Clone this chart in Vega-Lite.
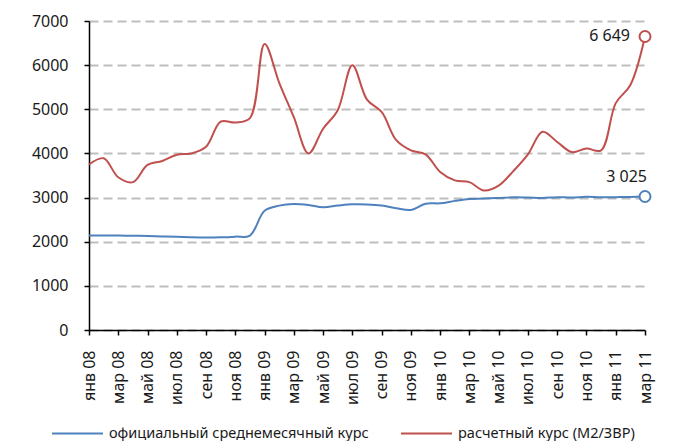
{
  "$schema": "https://vega.github.io/schema/vega-lite/v6.json",
  "width": 556,
  "height": 309,
  "autosize": {"type": "none"},
  "padding": {"left": 89, "top": 21, "right": 30, "bottom": 111},
  "background": "white",
  "config": {
    "view": {"stroke": null},
    "font": "Noto Sans",
    "locale": {"number": {"decimal": ",", "thousands": " ", "grouping": [3], "currency": ["", ""]}},
    "axis": {"labelFont": "Noto Sans", "labelFontSize": 16, "labelColor": "#1a1a1a", "domainColor": "black", "domainWidth": 1.5, "tickColor": "black", "tickWidth": 1.5, "tickSize": 5}
  },
  "data": {
    "values": [
      {"month": "янв 08", "series": "официальный среднемесячный курс", "value": 2140},
      {"month": "фев 08", "series": "официальный среднемесячный курс", "value": 2140},
      {"month": "мар 08", "series": "официальный среднемесячный курс", "value": 2138},
      {"month": "апр 08", "series": "официальный среднемесячный курс", "value": 2135},
      {"month": "май 08", "series": "официальный среднемесячный курс", "value": 2130},
      {"month": "июн 08", "series": "официальный среднемесячный курс", "value": 2120},
      {"month": "июл 08", "series": "официальный среднемесячный курс", "value": 2110},
      {"month": "авг 08", "series": "официальный среднемесячный курс", "value": 2100},
      {"month": "сен 08", "series": "официальный среднемесячный курс", "value": 2095},
      {"month": "окт 08", "series": "официальный среднемесячный курс", "value": 2100},
      {"month": "ноя 08", "series": "официальный среднемесячный курс", "value": 2115},
      {"month": "дек 08", "series": "официальный среднемесячный курс", "value": 2140},
      {"month": "янв 09", "series": "официальный среднемесячный курс", "value": 2700},
      {"month": "фев 09", "series": "официальный среднемесячный курс", "value": 2818},
      {"month": "мар 09", "series": "официальный среднемесячный курс", "value": 2856},
      {"month": "апр 09", "series": "официальный среднемесячный курс", "value": 2833},
      {"month": "май 09", "series": "официальный среднемесячный курс", "value": 2780},
      {"month": "июн 09", "series": "официальный среднемесячный курс", "value": 2818},
      {"month": "июл 09", "series": "официальный среднемесячный курс", "value": 2848},
      {"month": "авг 09", "series": "официальный среднемесячный курс", "value": 2845},
      {"month": "сен 09", "series": "официальный среднемесячный курс", "value": 2820},
      {"month": "окт 09", "series": "официальный среднемесячный курс", "value": 2760},
      {"month": "ноя 09", "series": "официальный среднемесячный курс", "value": 2720},
      {"month": "дек 09", "series": "официальный среднемесячный курс", "value": 2860},
      {"month": "янв 10", "series": "официальный среднемесячный курс", "value": 2870},
      {"month": "фев 10", "series": "официальный среднемесячный курс", "value": 2925},
      {"month": "мар 10", "series": "официальный среднемесячный курс", "value": 2970},
      {"month": "апр 10", "series": "официальный среднемесячный курс", "value": 2977},
      {"month": "май 10", "series": "официальный среднемесячный курс", "value": 2990},
      {"month": "июн 10", "series": "официальный среднемесячный курс", "value": 3005},
      {"month": "июл 10", "series": "официальный среднемесячный курс", "value": 3000},
      {"month": "авг 10", "series": "официальный среднемесячный курс", "value": 2990},
      {"month": "сен 10", "series": "официальный среднемесячный курс", "value": 3010},
      {"month": "окт 10", "series": "официальный среднемесячный курс", "value": 3000},
      {"month": "ноя 10", "series": "официальный среднемесячный курс", "value": 3020},
      {"month": "дек 10", "series": "официальный среднемесячный курс", "value": 3005},
      {"month": "янв 11", "series": "официальный среднемесячный курс", "value": 3010},
      {"month": "фев 11", "series": "официальный среднемесячный курс", "value": 3015},
      {"month": "мар 11", "series": "официальный среднемесячный курс", "value": 3025},
      {"month": "янв 08", "series": "расчетный курс (М2/ЗВР)", "value": 3750},
      {"month": "фев 08", "series": "расчетный курс (М2/ЗВР)", "value": 3890},
      {"month": "мар 08", "series": "расчетный курс (М2/ЗВР)", "value": 3460},
      {"month": "апр 08", "series": "расчетный курс (М2/ЗВР)", "value": 3350},
      {"month": "май 08", "series": "расчетный курс (М2/ЗВР)", "value": 3740},
      {"month": "июн 08", "series": "расчетный курс (М2/ЗВР)", "value": 3830},
      {"month": "июл 08", "series": "расчетный курс (М2/ЗВР)", "value": 3970},
      {"month": "авг 08", "series": "расчетный курс (М2/ЗВР)", "value": 4000},
      {"month": "сен 08", "series": "расчетный курс (М2/ЗВР)", "value": 4150},
      {"month": "окт 08", "series": "расчетный курс (М2/ЗВР)", "value": 4720},
      {"month": "ноя 08", "series": "расчетный курс (М2/ЗВР)", "value": 4700},
      {"month": "дек 08", "series": "расчетный курс (М2/ЗВР)", "value": 4800},
      {"month": "янв 09", "series": "расчетный курс (М2/ЗВР)", "value": 6480},
      {"month": "фев 09", "series": "расчетный курс (М2/ЗВР)", "value": 5600},
      {"month": "мар 09", "series": "расчетный курс (М2/ЗВР)", "value": 4820},
      {"month": "апр 09", "series": "расчетный курс (М2/ЗВР)", "value": 4000},
      {"month": "май 09", "series": "расчетный курс (М2/ЗВР)", "value": 4560},
      {"month": "июн 09", "series": "расчетный курс (М2/ЗВР)", "value": 4980},
      {"month": "июл 09", "series": "расчетный курс (М2/ЗВР)", "value": 6000},
      {"month": "авг 09", "series": "расчетный курс (М2/ЗВР)", "value": 5220},
      {"month": "сен 09", "series": "расчетный курс (М2/ЗВР)", "value": 4940},
      {"month": "окт 09", "series": "расчетный курс (М2/ЗВР)", "value": 4300},
      {"month": "ноя 09", "series": "расчетный курс (М2/ЗВР)", "value": 4070},
      {"month": "дек 09", "series": "расчетный курс (М2/ЗВР)", "value": 3980},
      {"month": "янв 10", "series": "расчетный курс (М2/ЗВР)", "value": 3580},
      {"month": "фев 10", "series": "расчетный курс (М2/ЗВР)", "value": 3390},
      {"month": "мар 10", "series": "расчетный курс (М2/ЗВР)", "value": 3350},
      {"month": "апр 10", "series": "расчетный курс (М2/ЗВР)", "value": 3160},
      {"month": "май 10", "series": "расчетный курс (М2/ЗВР)", "value": 3270},
      {"month": "июн 10", "series": "расчетный курс (М2/ЗВР)", "value": 3600},
      {"month": "июл 10", "series": "расчетный курс (М2/ЗВР)", "value": 3980},
      {"month": "авг 10", "series": "расчетный курс (М2/ЗВР)", "value": 4490},
      {"month": "сен 10", "series": "расчетный курс (М2/ЗВР)", "value": 4260},
      {"month": "окт 10", "series": "расчетный курс (М2/ЗВР)", "value": 4030},
      {"month": "ноя 10", "series": "расчетный курс (М2/ЗВР)", "value": 4110},
      {"month": "дек 10", "series": "расчетный курс (М2/ЗВР)", "value": 4070},
      {"month": "янв 11", "series": "расчетный курс (М2/ЗВР)", "value": 5140},
      {"month": "фев 11", "series": "расчетный курс (М2/ЗВР)", "value": 5550},
      {"month": "мар 11", "series": "расчетный курс (М2/ЗВР)", "value": 6649}
    ]
  },
  "encoding": {
    "x": {
      "field": "month",
      "type": "ordinal",
      "sort": null,
      "scale": {"type": "point", "padding": 0},
      "axis": {
        "title": null,
        "labelAngle": -90,
        "labelPadding": 15,
        "grid": false,
        "values": ["янв 08", "мар 08", "май 08", "июл 08", "сен 08", "ноя 08", "янв 09", "мар 09", "май 09", "июл 09", "сен 09", "ноя 09", "янв 10", "мар 10", "май 10", "июл 10", "сен 10", "ноя 10", "янв 11", "мар 11"]
      }
    },
    "y": {
      "field": "value",
      "type": "quantitative",
      "scale": {"domain": [0, 7000], "nice": false},
      "axis": {
        "title": null,
        "values": [0, 1000, 2000, 3000, 4000, 5000, 6000, 7000],
        "format": "d",
        "labelPadding": 16,
        "grid": true,
        "gridColor": "#BEBEBE",
        "gridDash": [9, 5],
        "gridWidth": 2
      }
    }
  },
  "layer": [
    {
      "mark": {"type": "line", "interpolate": "catmull-rom", "strokeWidth": 2},
      "encoding": {
        "color": {
          "field": "series",
          "type": "nominal",
          "scale": {"domain": ["официальный среднемесячный курс", "расчетный курс (М2/ЗВР)"], "range": ["#4F81BD", "#C0504D"]},
          "legend": {
            "title": null,
            "orient": "none",
            "direction": "horizontal",
            "legendX": -38,
            "legendY": 386,
            "symbolType": "stroke",
            "symbolSize": 2601,
            "symbolStrokeWidth": 2,
            "labelFont": "Noto Sans",
            "labelFontSize": 14.5,
            "labelColor": "#1a1a1a",
            "labelOffset": 5,
            "columnPadding": 28,
            "labelLimit": 400
          }
        }
      }
    },
    {
      "transform": [{"filter": "datum.month === 'мар 11'"}],
      "mark": {"type": "point", "shape": "circle", "fill": "white", "filled": false, "strokeWidth": 2, "size": 120, "opacity": 1},
      "encoding": {
        "stroke": {
          "field": "series",
          "type": "nominal",
          "scale": {"domain": ["официальный среднемесячный курс", "расчетный курс (М2/ЗВР)"], "range": ["#4F81BD", "#C0504D"]},
          "legend": null
        }
      }
    },
    {
      "transform": [{"filter": "datum.month === 'мар 11' && datum.series === 'расчетный курс (М2/ЗВР)'"}],
      "mark": {"type": "text", "align": "right", "baseline": "middle", "dx": -15, "fontSize": 16, "color": "#1a1a1a"},
      "encoding": {"text": {"field": "value", "type": "quantitative", "format": ",d"}}
    },
    {
      "transform": [{"filter": "datum.month === 'мар 11' && datum.series === 'официальный среднемесячный курс'"}],
      "mark": {"type": "text", "align": "right", "baseline": "middle", "dx": 2, "dy": -19, "fontSize": 16, "color": "#1a1a1a"},
      "encoding": {"text": {"field": "value", "type": "quantitative", "format": ",d"}}
    },
    {
      "data": {"values": [{"label": "USD/BYR"}]},
      "mark": {"type": "text", "align": "left", "baseline": "middle", "dx": 7, "fontSize": 15, "color": "#1a1a1a"},
      "encoding": {"x": {"datum": "янв 08"}, "y": {"datum": 6660}, "text": {"field": "label"}}
    }
  ]
}
